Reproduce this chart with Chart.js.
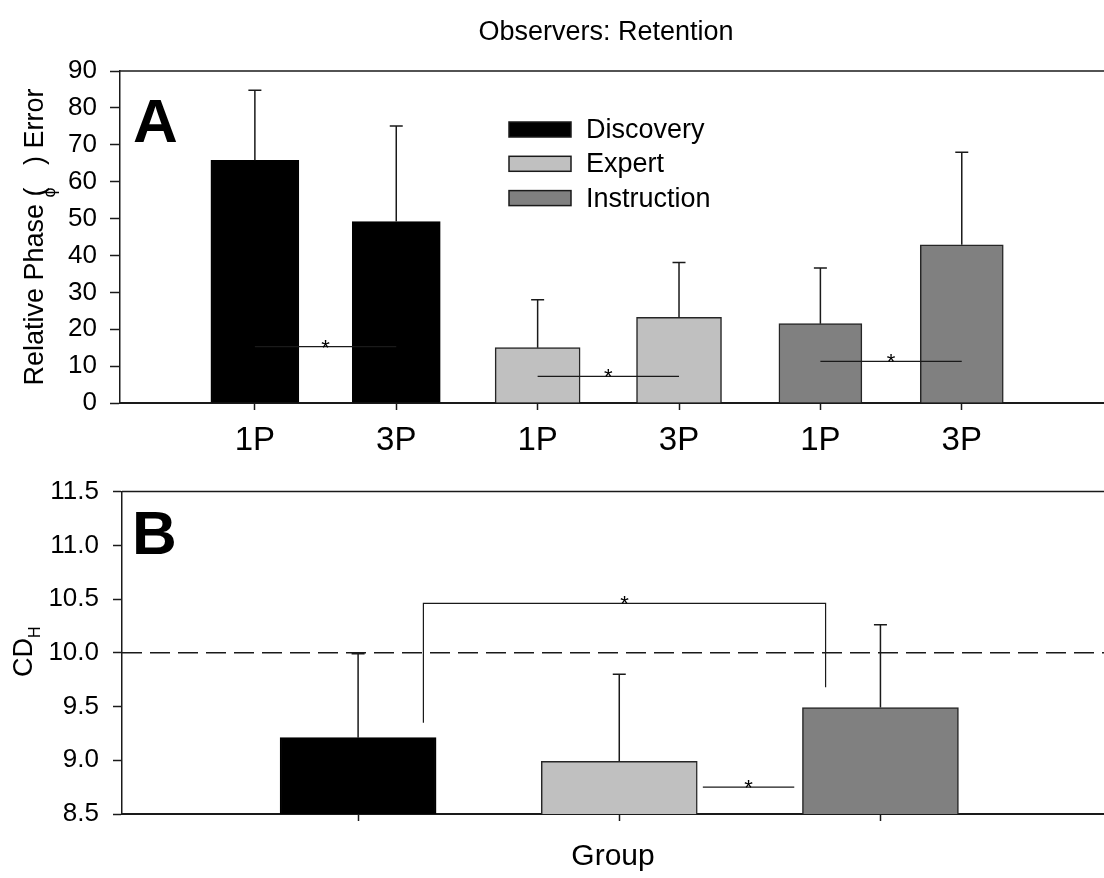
<!DOCTYPE html>
<html>
<head>
<meta charset="utf-8">
<title>Observers: Retention</title>
<script src="https://cdn.jsdelivr.net/npm/chart.js@4.4.1/dist/chart.umd.min.js"></script>
<style>
  html, body { margin: 0; padding: 0; background: #fff; }
  #wrapA { position: absolute; left: 0; top: 0; }
  #wrapB { position: absolute; left: 0; top: 462px; }
</style>
</head>
<body>
<div id="wrapA"><canvas id="chartA" width="1104" height="462"></canvas></div>
<div id="wrapB"><canvas id="chartB" width="1104" height="416"></canvas></div>
<script>
// groups shared by both panels
const groupNames = ['Discovery', 'Expert', 'Instruction'];
const groupColors = ['#000000', '#c0c0c0', '#808080'];

// panel A - relative phase error, 1P / 3P inside each group
const perspectiveLabels = ['1P', '3P', '1P', '3P', '1P', '3P'];
const discoveryMeans = [65.8, 49.2];
const discoveryErrors = [19.0, 25.9];
const expertMeans = [15.0, 23.2];
const expertErrors = [13.0, 14.9];
const instructionMeans = [21.5, 42.9];
const instructionErrors = [15.1, 25.1];
// significance lines: [from bar, to bar, height]
const sigLinesA = [[1, 2, 15.3], [3, 4, 7.2], [5, 6, 11.3]];

// panel B - CD_H per group
const cdMeans = [9.21, 8.99, 9.49];
const cdErrors = [0.78, 0.81, 0.77];
const cdReference = 10.0;
// bracket Discovery vs Instruction: [left x, right x, top, left end, right end]
const bracketB = [1.25, 2.79, 10.46, 9.35, 9.68];
// line Expert vs Instruction: [from x, to x, height]
const sigLineB = [2.32, 2.67, 8.75];

const FONT = '"Liberation Sans", Arial, Helvetica, sans-serif';
const ink = '#1a1a1a';
Chart.defaults.font.family = FONT;
Chart.defaults.color = '#000';
Chart.defaults.animation = false;

// error bars (upper half only) from dataset.errors
const errorBars = {
  id: 'errorBars',
  afterDatasetsDraw(chart, args, opts) {
    const { ctx } = chart;
    const y = chart.scales.y;
    ctx.save();
    ctx.strokeStyle = ink;
    ctx.lineWidth = 1.5;
    chart.data.datasets.forEach((ds, di) => {
      chart.getDatasetMeta(di).data.forEach((bar, i) => {
        const top = y.getPixelForValue(ds.data[i].y + ds.errors[i]);
        ctx.beginPath();
        ctx.moveTo(bar.x, bar.y);
        ctx.lineTo(bar.x, top);
        ctx.moveTo(bar.x - opts.cap, top);
        ctx.lineTo(bar.x + opts.cap, top);
        ctx.stroke();
      });
    });
    ctx.restore();
  }
};

function star(ctx, x, y) {
  ctx.save();
  ctx.font = '22px ' + FONT;
  ctx.textAlign = 'center';
  ctx.textBaseline = 'alphabetic';
  ctx.fillStyle = '#000';
  ctx.fillText('*', x, y + 8);
  ctx.restore();
}

// rotated axis title made of parts (for subscripts)
function rotatedTitle(ctx, cx, cy, parts) {
  ctx.save();
  ctx.translate(cx, cy);
  ctx.rotate(-Math.PI / 2);
  ctx.fillStyle = '#000';
  ctx.textBaseline = 'alphabetic';
  ctx.textAlign = 'left';
  let total = 0;
  parts.forEach(p => {
    ctx.font = p.font;
    p.w = p.advance !== undefined ? p.advance : ctx.measureText(p.text).width;
    total += p.w;
  });
  let x = -total / 2;
  parts.forEach(p => {
    ctx.font = p.font;
    ctx.fillText(p.text, x + (p.dx || 0), p.dy || 0);
    x += p.w;
  });
  ctx.restore();
}

function frameTop(chart) {
  const { ctx, chartArea } = chart;
  ctx.save();
  ctx.strokeStyle = ink;
  ctx.lineWidth = 1.5;
  ctx.beginPath();
  ctx.moveTo(chartArea.left, chartArea.top);
  ctx.lineTo(chart.width, chartArea.top);
  ctx.stroke();
  ctx.restore();
}

// ---------- panel A ----------
const meansA = [discoveryMeans, expertMeans, instructionMeans];
const errorsA = [discoveryErrors, expertErrors, instructionErrors];
const widthsA = [88, 85, 83];

const datasetsA = groupNames.map((name, g) => ({
  label: name,
  data: meansA[g].map((v, i) => ({ x: g * 2 + i + 1, y: v })),
  errors: errorsA[g],
  backgroundColor: groupColors[g],
  borderColor: g === 0 ? '#000' : '#262626',
  borderWidth: 1.5,
  barThickness: widthsA[g],
}));

const decorA = {
  id: 'decorA',
  afterDraw(chart) {
    const { ctx, chartArea, scales: { x, y } } = chart;
    frameTop(chart);
    ctx.save();
    // title
    ctx.font = '27px ' + FONT;
    ctx.fillStyle = '#000';
    ctx.textAlign = 'center';
    ctx.textBaseline = 'middle';
    ctx.fillText('Observers: Retention', 606, 33);
    // panel letter
    ctx.font = 'bold 62px ' + FONT;
    ctx.textAlign = 'left';
    ctx.textBaseline = 'alphabetic';
    ctx.fillText('A', 133, 142);
    // legend
    chart.data.datasets.forEach((ds, i) => {
      const yMid = 129.5 + i * 34.3;
      ctx.fillStyle = ds.backgroundColor;
      ctx.fillRect(509, yMid - 7.5, 62, 15);
      ctx.strokeStyle = ink;
      ctx.lineWidth = 1.5;
      ctx.strokeRect(509, yMid - 7.5, 62, 15);
      ctx.fillStyle = '#000';
      ctx.font = '27px ' + FONT;
      ctx.textBaseline = 'middle';
      ctx.fillText(ds.label, 586, yMid + 1);
    });
    // significance lines
    ctx.strokeStyle = ink;
    ctx.lineWidth = 1.2;
    sigLinesA.forEach(([a, b, v]) => {
      const py = y.getPixelForValue(v);
      const x1 = x.getPixelForValue(a), x2 = x.getPixelForValue(b);
      ctx.beginPath();
      ctx.moveTo(x1, py);
      ctx.lineTo(x2, py);
      ctx.stroke();
      star(ctx, (x1 + x2) / 2, py);
    });
    ctx.restore();
    // y title with subscript phi
    const f = '27px ' + FONT;
    rotatedTitle(ctx, 43, (chartArea.top + chartArea.bottom) / 2, [
      { text: 'Relative Phase (', font: f },
      { text: '\u03D5', font: '18px ' + FONT, dy: 12, dx: -10, advance: 0 },
      { text: '   ) Error', font: f },
    ]);
  }
};

new Chart(document.getElementById('chartA'), {
  type: 'bar',
  data: { datasets: datasetsA },
  options: {
    responsive: false,
    layout: { padding: { top: 71, left: 0, right: 0, bottom: 0 } },
    plugins: {
      legend: { display: false },
      tooltip: { enabled: false },
      errorBars: { cap: 6.5 },
    },
    datasets: { bar: { grouped: false } },
    scales: {
      x: {
        type: 'linear',
        min: 0.046,
        max: 7.006,
        offset: false,
        afterBuildTicks(scale) {
          scale.ticks = perspectiveLabels.map((_, i) => ({ value: i + 1 }));
        },
        ticks: {
          callback: (v) => perspectiveLabels[v - 1] || '',
          font: { size: 33 },
          color: '#000',
          padding: 11,
          autoSkip: false,
          maxRotation: 0,
        },
        grid: { drawOnChartArea: false, offset: false, tickLength: 7, tickColor: ink, tickWidth: 1.5 },
        border: { color: ink, width: 2 },
        afterFit(scale) { scale.height = 59; },
      },
      y: {
        min: 0,
        max: 90,
        ticks: { stepSize: 10, font: { size: 26 }, color: '#000', padding: 13 },
        grid: { drawOnChartArea: false, tickLength: 10, tickColor: ink, tickWidth: 1.5 },
        border: { color: ink, width: 1.5 },
        afterFit(scale) { scale.width = 120; },
      },
    },
  },
  plugins: [errorBars, decorA],
});

// ---------- panel B ----------
const datasetsB = [{
  label: 'CD_H',
  data: cdMeans.map((v, i) => ({ x: i + 1, y: v })),
  errors: cdErrors,
  backgroundColor: groupColors,
  borderColor: ['#000', '#262626', '#262626'],
  borderWidth: 1.5,
  barThickness: 156,
}];

const decorB = {
  id: 'decorB',
  beforeDatasetsDraw(chart) {
    const { ctx, chartArea, scales: { y } } = chart;
    const py = y.getPixelForValue(cdReference);
    ctx.save();
    ctx.strokeStyle = ink;
    ctx.lineWidth = 1.5;
    ctx.setLineDash([20, 8]);
    ctx.beginPath();
    ctx.moveTo(chartArea.left, py);
    ctx.lineTo(chart.width, py);
    ctx.stroke();
    ctx.restore();
  },
  afterDraw(chart) {
    const { ctx, chartArea, scales: { x, y } } = chart;
    frameTop(chart);
    ctx.save();
    ctx.font = 'bold 62px ' + FONT;
    ctx.fillStyle = '#000';
    ctx.textAlign = 'left';
    ctx.textBaseline = 'alphabetic';
    ctx.fillText('B', 132, 92);
    ctx.strokeStyle = ink;
    ctx.lineWidth = 1.2;
    // bracket
    const [bx1, bx2, bTop, bEnd1, bEnd2] = bracketB;
    const l = x.getPixelForValue(bx1), r = x.getPixelForValue(bx2), t = y.getPixelForValue(bTop);
    ctx.beginPath();
    ctx.moveTo(l, y.getPixelForValue(bEnd1));
    ctx.lineTo(l, t);
    ctx.lineTo(r, t);
    ctx.lineTo(r, y.getPixelForValue(bEnd2));
    ctx.stroke();
    star(ctx, (l + r) / 2, t);
    // short line
    const [sx1, sx2, sv] = sigLineB;
    const s1 = x.getPixelForValue(sx1), s2 = x.getPixelForValue(sx2), sp = y.getPixelForValue(sv);
    ctx.beginPath();
    ctx.moveTo(s1, sp);
    ctx.lineTo(s2, sp);
    ctx.stroke();
    star(ctx, (s1 + s2) / 2, sp);
    ctx.restore();
    // y title CD with subscript H
    rotatedTitle(ctx, 32, (chartArea.top + chartArea.bottom) / 2 - 1, [
      { text: 'CD', font: '27px ' + FONT },
      { text: 'H', font: '16px ' + FONT, dy: 8 },
    ]);
  }
};

new Chart(document.getElementById('chartB'), {
  type: 'bar',
  data: { datasets: datasetsB },
  options: {
    responsive: false,
    layout: { padding: { top: 20, left: 0, right: 0, bottom: 0 } },
    plugins: {
      legend: { display: false },
      tooltip: { enabled: false },
      errorBars: { cap: 6.5 },
    },
    scales: {
      x: {
        type: 'linear',
        min: 0.096,
        max: 3.856,
        offset: false,
        afterBuildTicks(scale) {
          scale.ticks = groupNames.map((_, i) => ({ value: i + 1 }));
        },
        ticks: { callback: () => '', autoSkip: false, maxRotation: 0 },
        grid: { drawOnChartArea: false, offset: false, tickLength: 7, tickColor: ink, tickWidth: 1.5 },
        border: { color: ink, width: 2 },
        title: { display: true, text: 'Group', font: { size: 30 }, color: '#000', padding: 3 },
        afterFit(scale) { scale.height = 64; },
      },
      y: {
        min: 8.5,
        max: 11.5,
        ticks: {
          stepSize: 0.5,
          font: { size: 26 },
          color: '#000',
          padding: 14,
          callback: (v) => v.toFixed(1),
        },
        grid: { drawOnChartArea: false, tickLength: 9, tickColor: ink, tickWidth: 1.5 },
        border: { color: ink, width: 1.5 },
        afterFit(scale) { scale.width = 122; },
      },
    },
  },
  plugins: [errorBars, decorB],
});
</script>
</body>
</html>
